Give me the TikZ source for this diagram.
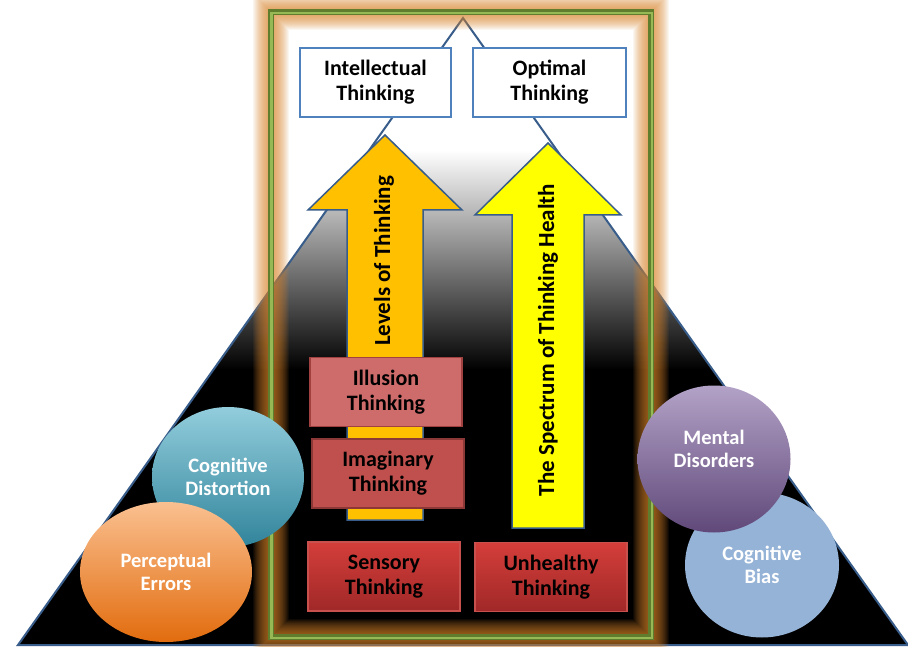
\documentclass[tikz,border=0pt]{standalone}
\usepackage{fontspec}
\setmainfont{Carlito}
\usetikzlibrary{shapes.geometric}
\definecolor{triline}{RGB}{56,93,138}
\definecolor{boxblue}{RGB}{79,129,189}
\definecolor{frameg}{RGB}{95,125,45}
\definecolor{frameg2}{RGB}{150,185,85}
\definecolor{glowc}{RGB}{220,135,45}
\definecolor{goldc}{RGB}{255,192,0}
\definecolor{yelc}{RGB}{255,255,0}
\definecolor{illusf}{RGB}{206,107,107}
\definecolor{illusd}{RGB}{160,64,63}
\definecolor{imagf}{RGB}{192,80,77}
\definecolor{imagd}{RGB}{140,56,54}
\definecolor{senstop}{RGB}{212,62,58}
\definecolor{sensbot}{RGB}{160,40,40}
\definecolor{sensd}{RGB}{200,80,77}
\definecolor{tealtop}{RGB}{146,205,220}
\definecolor{tealbot}{RGB}{49,132,155}
\definecolor{orgtop}{RGB}{250,192,144}
\definecolor{orgbot}{RGB}{226,108,14}
\definecolor{purtop}{RGB}{179,162,199}
\definecolor{purbot}{RGB}{96,73,122}
\definecolor{ltblue}{RGB}{149,179,215}
\tikzset{
  txt/.style={font=\fontsize{22}{25}\selectfont\bfseries, align=center, text=black},
  topbox/.style={txt, draw=boxblue, line width=1.5pt, fill=white, minimum height=69pt, inner sep=0pt},
  redbox/.style={txt, line width=1.5pt, minimum width=152pt, minimum height=69pt, inner sep=0pt},
  bubble/.style={ellipse, inner sep=0pt, font=\fontsize{20.5}{23}\selectfont\bfseries, align=center, text=white},
  bubtxt/.style={inner sep=0pt, font=\fontsize{20.5}{23}\selectfont\bfseries, align=center, text=white},
  arrowshape/.style={draw=triline, line width=1.5pt, line join=miter},
  rottxt/.style={font=\fontsize{23}{27}\selectfont\bfseries, rotate=90, text=black}
}
\begin{document}
\begin{tikzpicture}[x=1pt,y=-1pt]
\useasboundingbox (0,0) rectangle (908,647);
\fill[white] (0,0) rectangle (908,647);
% triangle
\coordinate (apex) at (463,18);
\coordinate (bl) at (18,645);
\coordinate (br) at (908,645);
\begin{scope}
  \clip (apex) -- (bl) -- (br) -- cycle;
  \shade[top color=white, middle color=black!35, bottom color=black] (0,150) rectangle (908,370);
  \fill[black] (0,369) rectangle (908,648);
\end{scope}
\draw[triline, line width=2pt, line join=miter] (apex) -- (bl) -- (br) -- cycle;
% frame with glow
\coordinate (fa) at (270.5,12);
\coordinate (fb) at (651,637);
\foreach \w in {36,34,...,8}
  \draw[glowc, opacity=0.07, line width=\w pt] (fa) rectangle (fb);
\draw[frameg, line width=6pt] (fa) rectangle (fb);
\draw[frameg2, line width=2.4pt] ([shift={(1,1)}]fa) rectangle ([shift={(1,1)}]fb);
% top boxes
\node[topbox, minimum width=151pt] (intel) at (375.5,82.5) {Intellectual\\Thinking};
\node[topbox, minimum width=153pt] (optim) at (549.5,82.5) {Optimal\\Thinking};
% arrows
\draw[arrowshape, fill=goldc] (347,520) -- (347,210) -- (308,210) -- (385,135) -- (462,210) -- (423,210) -- (423,520) -- cycle;
\draw[arrowshape, fill=yelc] (512,528) -- (512,215) -- (475,215) -- (548,143) -- (621,215) -- (584,215) -- (584,528) -- cycle;
\node[rottxt] (levels) at (384,261) {Levels of Thinking};
\node[rottxt] (spectrum) at (548,340) {The Spectrum of Thinking Health};
% red boxes
\node[redbox, fill=illusf, draw=illusd] (illusion) at (386,392) {Illusion\\Thinking};
\node[redbox, fill=imagf, draw=imagd] (imaginary) at (388,473.5) {Imaginary\\Thinking};
\node[redbox, top color=senstop, bottom color=sensbot, draw=sensd] (sensory) at (384,576.5) {Sensory\\Thinking};
\node[redbox, top color=senstop, bottom color=sensbot, draw=sensd] (unhealthy) at (551,577) {Unhealthy\\Thinking};
% bubbles
\node[bubble, minimum width=152pt, minimum height=140pt, top color=tealtop, bottom color=tealbot] (cogdist) at (228,477) {Cognitive\\Distortion};
\node[bubble, minimum width=172pt, minimum height=140pt, top color=orgtop, bottom color=orgbot] (percep) at (166,572) {Perceptual\\Errors};
\node[bubble, minimum width=154pt, minimum height=145pt, fill=ltblue] (cogbias) at (762,565) {Cognitive\\Bias};
\node[bubble, minimum width=153pt, minimum height=147pt, top color=purtop, bottom color=purbot] (mental) at (714,459) {};
\node[bubtxt] (mentaltxt) at ([yshift=10pt]mental.center) {Mental\\Disorders};
\end{tikzpicture}
\end{document}
